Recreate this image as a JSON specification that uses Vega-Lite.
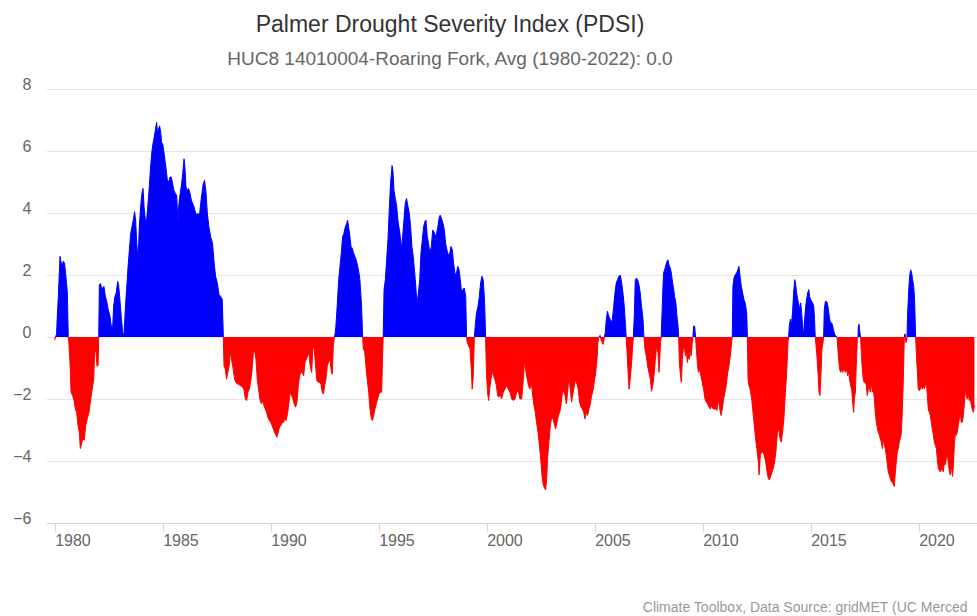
{
"$schema": "https://vega.github.io/schema/vega-lite/v6.json",
"width": 931,
"height": 434,
"autosize": {"type": "none"},
"padding": {"left": 46, "top": 89, "right": 0, "bottom": 93},
"background": "#ffffff",
"config": {"view": {"stroke": null}, "font": "Liberation Sans"},
"title": {
  "text": "Palmer Drought Severity Index (PDSI)",
  "subtitle": "HUC8 14010004-Roaring Fork, Avg (1980-2022): 0.0",
  "anchor": "middle",
  "frame": "group",
  "dx": -61.5,
  "font": "Liberation Sans",
  "fontSize": 23,
  "fontWeight": "normal",
  "color": "#333333",
  "subtitleFont": "Liberation Sans",
  "subtitleFontSize": 19,
  "subtitleColor": "#666666",
  "subtitlePadding": 13,
  "offset": 7
},
"data": {"values": [
{"year":1980.00,"pdsi":-0.1},{"year":1980.09,"pdsi":0.1},{"year":1980.12,"pdsi":0.62},{"year":1980.17,"pdsi":1.31},{"year":1980.25,"pdsi":2.6},{"year":1980.29,"pdsi":2.44},{"year":1980.34,"pdsi":2.28},{"year":1980.40,"pdsi":2.44},{"year":1980.46,"pdsi":2.38},{"year":1980.52,"pdsi":1.96},{"year":1980.59,"pdsi":1.42},{"year":1980.63,"pdsi":0},{"year":1980.66,"pdsi":-0.18},{"year":1980.71,"pdsi":-0.82},{"year":1980.76,"pdsi":-1.78},{"year":1980.83,"pdsi":-1.89},{"year":1980.90,"pdsi":-2.05},{"year":1980.96,"pdsi":-2.32},{"year":1981.02,"pdsi":-2.43},{"year":1981.08,"pdsi":-2.85},{"year":1981.14,"pdsi":-3.07},{"year":1981.19,"pdsi":-3.6},{"year":1981.23,"pdsi":-3.49},{"year":1981.30,"pdsi":-3.28},{"year":1981.37,"pdsi":-3.33},{"year":1981.44,"pdsi":-2.85},{"year":1981.51,"pdsi":-2.64},{"year":1981.59,"pdsi":-2.43},{"year":1981.67,"pdsi":-2.0},{"year":1981.74,"pdsi":-1.68},{"year":1981.81,"pdsi":-1.36},{"year":1981.85,"pdsi":-0.5},{"year":1981.91,"pdsi":-0.45},{"year":1981.96,"pdsi":-0.93},{"year":1982.01,"pdsi":-0.93},{"year":1982.04,"pdsi":0},
{"year":1982.07,"pdsi":1.69},{"year":1982.13,"pdsi":1.72},{"year":1982.18,"pdsi":1.53},{"year":1982.22,"pdsi":1.58},{"year":1982.28,"pdsi":1.63},{"year":1982.35,"pdsi":1.31},{"year":1982.41,"pdsi":1.15},{"year":1982.48,"pdsi":0.89},{"year":1982.56,"pdsi":0.67},{"year":1982.62,"pdsi":0.35},{"year":1982.69,"pdsi":0.35},{"year":1982.73,"pdsi":0.99},{"year":1982.79,"pdsi":1.31},{"year":1982.85,"pdsi":1.42},{"year":1982.92,"pdsi":1.79},{"year":1982.96,"pdsi":1.69},{"year":1983.02,"pdsi":1.21},{"year":1983.09,"pdsi":0.62},{"year":1983.15,"pdsi":0.14},{"year":1983.21,"pdsi":0.09},{"year":1983.27,"pdsi":0.89},{"year":1983.33,"pdsi":1.53},{"year":1983.40,"pdsi":2.28},{"year":1983.46,"pdsi":2.81},{"year":1983.52,"pdsi":3.34},{"year":1983.58,"pdsi":3.56},{"year":1983.64,"pdsi":3.77},{"year":1983.70,"pdsi":4.04},{"year":1983.75,"pdsi":3.77},{"year":1983.80,"pdsi":3.02},{"year":1983.86,"pdsi":2.49},{"year":1983.92,"pdsi":3.56},{"year":1983.98,"pdsi":4.2},{"year":1984.04,"pdsi":4.63},{"year":1984.09,"pdsi":4.79},{"year":1984.14,"pdsi":4.2},{"year":1984.20,"pdsi":3.77},{"year":1984.26,"pdsi":3.77},{"year":1984.31,"pdsi":4.2},{"year":1984.37,"pdsi":4.73},{"year":1984.43,"pdsi":5.37},{"year":1984.49,"pdsi":5.91},{"year":1984.55,"pdsi":6.23},{"year":1984.61,"pdsi":6.44},{"year":1984.68,"pdsi":6.76},{"year":1984.72,"pdsi":6.92},{"year":1984.77,"pdsi":6.55},{"year":1984.81,"pdsi":6.71},{"year":1984.86,"pdsi":6.81},{"year":1984.91,"pdsi":6.6},{"year":1984.95,"pdsi":6.28},{"year":1985.00,"pdsi":6.23},{"year":1985.05,"pdsi":6.01},{"year":1985.11,"pdsi":5.69},{"year":1985.15,"pdsi":5.48},{"year":1985.22,"pdsi":5.05},{"year":1985.28,"pdsi":5.0},{"year":1985.34,"pdsi":5.16},{"year":1985.40,"pdsi":5.16},{"year":1985.46,"pdsi":4.95},{"year":1985.52,"pdsi":4.73},{"year":1985.59,"pdsi":4.63},{"year":1985.65,"pdsi":4.57},{"year":1985.71,"pdsi":3.66},{"year":1985.74,"pdsi":4.2},{"year":1985.80,"pdsi":4.57},{"year":1985.86,"pdsi":4.84},{"year":1985.93,"pdsi":5.27},{"year":1985.99,"pdsi":5.75},{"year":1986.03,"pdsi":5.48},{"year":1986.08,"pdsi":4.84},{"year":1986.14,"pdsi":4.73},{"year":1986.20,"pdsi":4.79},{"year":1986.27,"pdsi":4.63},{"year":1986.33,"pdsi":4.41},{"year":1986.39,"pdsi":4.31},{"year":1986.45,"pdsi":4.2},{"year":1986.51,"pdsi":4.04},{"year":1986.57,"pdsi":3.93},{"year":1986.64,"pdsi":3.99},{"year":1986.70,"pdsi":3.88},{"year":1986.76,"pdsi":4.31},{"year":1986.82,"pdsi":4.63},{"year":1986.88,"pdsi":4.95},{"year":1986.94,"pdsi":5.05},
{"year":1987.00,"pdsi":4.73},{"year":1987.07,"pdsi":3.99},{"year":1987.14,"pdsi":3.56},{"year":1987.22,"pdsi":3.24},{"year":1987.31,"pdsi":3.02},{"year":1987.37,"pdsi":2.49},{"year":1987.45,"pdsi":1.96},{"year":1987.53,"pdsi":1.74},{"year":1987.61,"pdsi":1.37},{"year":1987.68,"pdsi":1.31},{"year":1987.76,"pdsi":1.21},{"year":1987.81,"pdsi":0},{"year":1987.84,"pdsi":-0.93},{"year":1987.90,"pdsi":-1.04},{"year":1987.96,"pdsi":-1.36},{"year":1988.02,"pdsi":-1.14},{"year":1988.08,"pdsi":-0.93},{"year":1988.15,"pdsi":-0.45},{"year":1988.21,"pdsi":-0.82},{"year":1988.27,"pdsi":-1.04},{"year":1988.33,"pdsi":-1.36},{"year":1988.39,"pdsi":-1.46},{"year":1988.46,"pdsi":-1.52},{"year":1988.52,"pdsi":-1.52},{"year":1988.58,"pdsi":-1.57},{"year":1988.64,"pdsi":-1.57},{"year":1988.70,"pdsi":-1.62},{"year":1988.76,"pdsi":-1.68},{"year":1988.83,"pdsi":-2.0},{"year":1988.89,"pdsi":-2.05},{"year":1988.95,"pdsi":-1.78},{"year":1989.01,"pdsi":-1.68},{"year":1989.07,"pdsi":-1.46},{"year":1989.13,"pdsi":-1.14},{"year":1989.20,"pdsi":-0.5},{"year":1989.26,"pdsi":-0.45},{"year":1989.32,"pdsi":-0.72},{"year":1989.38,"pdsi":-1.36},{"year":1989.44,"pdsi":-1.68},{"year":1989.50,"pdsi":-2.0},{"year":1989.57,"pdsi":-2.16},{"year":1989.63,"pdsi":-2.05},{"year":1989.69,"pdsi":-2.21},{"year":1989.75,"pdsi":-2.32},{"year":1989.81,"pdsi":-2.43},{"year":1989.87,"pdsi":-2.59},{"year":1989.94,"pdsi":-2.69},{"year":1990.00,"pdsi":-2.75},{"year":1990.06,"pdsi":-2.85},{"year":1990.12,"pdsi":-2.96},{"year":1990.18,"pdsi":-3.07},{"year":1990.25,"pdsi":-3.17},{"year":1990.29,"pdsi":-3.23},{"year":1990.35,"pdsi":-3.07},{"year":1990.41,"pdsi":-2.91},{"year":1990.48,"pdsi":-2.85},{"year":1990.54,"pdsi":-2.75},{"year":1990.60,"pdsi":-2.75},{"year":1990.66,"pdsi":-2.64},{"year":1990.72,"pdsi":-2.69},{"year":1990.79,"pdsi":-2.43},{"year":1990.85,"pdsi":-2.1},{"year":1990.91,"pdsi":-1.78},{"year":1990.97,"pdsi":-1.89},{"year":1991.03,"pdsi":-2.0},{"year":1991.09,"pdsi":-2.16},{"year":1991.16,"pdsi":-2.26},{"year":1991.22,"pdsi":-2.1},{"year":1991.28,"pdsi":-1.57},{"year":1991.34,"pdsi":-1.25},{"year":1991.40,"pdsi":-1.14},{"year":1991.46,"pdsi":-1.14},{"year":1991.53,"pdsi":-1.25},{"year":1991.59,"pdsi":-0.82},{"year":1991.65,"pdsi":-0.72},{"year":1991.71,"pdsi":-0.61},{"year":1991.77,"pdsi":-0.5},{"year":1991.83,"pdsi":-0.93},{"year":1991.90,"pdsi":-1.14},{"year":1991.96,"pdsi":-0.29},{"year":1992.02,"pdsi":-0.4},{"year":1992.08,"pdsi":-0.93},{"year":1992.14,"pdsi":-1.41},{"year":1992.21,"pdsi":-1.46},{"year":1992.27,"pdsi":-1.46},{"year":1992.33,"pdsi":-1.52},{"year":1992.39,"pdsi":-1.78},{"year":1992.44,"pdsi":-1.84},{"year":1992.50,"pdsi":-1.57},{"year":1992.56,"pdsi":-1.36},{"year":1992.62,"pdsi":-0.93},{"year":1992.68,"pdsi":-0.82},{"year":1992.75,"pdsi":-0.72},{"year":1992.81,"pdsi":-1.14},{"year":1992.85,"pdsi":-1.2},{"year":1992.90,"pdsi":-0.29},{"year":1992.95,"pdsi":0},{"year":1992.98,"pdsi":0.09},{"year":1993.02,"pdsi":0.35},{"year":1993.08,"pdsi":0.99},{"year":1993.15,"pdsi":1.85},{"year":1993.21,"pdsi":2.28},{"year":1993.27,"pdsi":2.7},{"year":1993.33,"pdsi":3.24},{"year":1993.39,"pdsi":3.34},{"year":1993.46,"pdsi":3.56},{"year":1993.52,"pdsi":3.66},{"year":1993.56,"pdsi":3.77},{"year":1993.61,"pdsi":3.56},{"year":1993.67,"pdsi":3.24},{"year":1993.72,"pdsi":2.92},{"year":1993.78,"pdsi":2.86},{"year":1993.84,"pdsi":2.7},{"year":1993.90,"pdsi":2.6},{"year":1993.96,"pdsi":2.49},{"year":1994.03,"pdsi":2.28},{"year":1994.09,"pdsi":2.06},{"year":1994.13,"pdsi":1.85},{"year":1994.21,"pdsi":0.99},{"year":1994.26,"pdsi":0},
{"year":1994.29,"pdsi":-0.4},{"year":1994.35,"pdsi":-0.45},{"year":1994.41,"pdsi":-0.93},{"year":1994.47,"pdsi":-1.36},{"year":1994.54,"pdsi":-1.78},{"year":1994.60,"pdsi":-2.32},{"year":1994.66,"pdsi":-2.64},{"year":1994.71,"pdsi":-2.69},{"year":1994.77,"pdsi":-2.53},{"year":1994.83,"pdsi":-2.32},{"year":1994.89,"pdsi":-2.16},{"year":1994.95,"pdsi":-2.0},{"year":1995.01,"pdsi":-1.84},{"year":1995.08,"pdsi":-1.78},{"year":1995.14,"pdsi":-1.78},{"year":1995.18,"pdsi":-0.61},{"year":1995.21,"pdsi":0},{"year":1995.25,"pdsi":1.53},{"year":1995.31,"pdsi":1.85},{"year":1995.37,"pdsi":2.49},{"year":1995.43,"pdsi":3.13},{"year":1995.49,"pdsi":4.09},{"year":1995.55,"pdsi":4.95},{"year":1995.62,"pdsi":5.53},{"year":1995.66,"pdsi":5.37},{"year":1995.71,"pdsi":4.73},{"year":1995.77,"pdsi":4.47},{"year":1995.83,"pdsi":4.25},{"year":1995.89,"pdsi":3.77},{"year":1995.96,"pdsi":3.45},{"year":1996.02,"pdsi":3.13},{"year":1996.06,"pdsi":2.86},{"year":1996.11,"pdsi":3.24},{"year":1996.17,"pdsi":3.77},{"year":1996.23,"pdsi":4.31},{"year":1996.29,"pdsi":4.47},{"year":1996.36,"pdsi":4.2},{"year":1996.42,"pdsi":3.99},{"year":1996.48,"pdsi":3.56},{"year":1996.54,"pdsi":2.92},{"year":1996.60,"pdsi":2.6},{"year":1996.67,"pdsi":2.06},{"year":1996.73,"pdsi":1.53},{"year":1996.77,"pdsi":1.05},{"year":1996.84,"pdsi":1.42},{"year":1996.90,"pdsi":1.85},{"year":1996.96,"pdsi":2.7},{"year":1997.02,"pdsi":3.13},{"year":1997.08,"pdsi":3.56},{"year":1997.14,"pdsi":3.72},{"year":1997.19,"pdsi":3.77},{"year":1997.25,"pdsi":3.24},{"year":1997.31,"pdsi":3.02},{"year":1997.37,"pdsi":2.7},{"year":1997.44,"pdsi":2.92},{"year":1997.50,"pdsi":3.45},{"year":1997.56,"pdsi":3.4},{"year":1997.62,"pdsi":3.24},{"year":1997.68,"pdsi":3.34},{"year":1997.74,"pdsi":3.56},{"year":1997.81,"pdsi":3.88},{"year":1997.85,"pdsi":3.93},{"year":1997.91,"pdsi":3.82},{"year":1997.98,"pdsi":3.66},{"year":1998.04,"pdsi":3.45},{"year":1998.10,"pdsi":3.02},{"year":1998.16,"pdsi":2.81},{"year":1998.22,"pdsi":2.65},{"year":1998.29,"pdsi":2.7},{"year":1998.35,"pdsi":2.92},{"year":1998.41,"pdsi":2.81},{"year":1998.47,"pdsi":2.38},{"year":1998.53,"pdsi":2.06},{"year":1998.59,"pdsi":2.01},{"year":1998.66,"pdsi":2.28},{"year":1998.72,"pdsi":2.17},{"year":1998.78,"pdsi":1.85},{"year":1998.84,"pdsi":1.42},{"year":1998.90,"pdsi":1.53},{"year":1998.96,"pdsi":1.58},{"year":1999.03,"pdsi":1.31},{"year":1999.07,"pdsi":0},{"year":1999.10,"pdsi":-0.18},{"year":1999.17,"pdsi":-0.29},{"year":1999.23,"pdsi":-0.4},{"year":1999.29,"pdsi":-1.04},{"year":1999.33,"pdsi":-1.68},{"year":1999.38,"pdsi":-1.25},{"year":1999.43,"pdsi":0},{"year":1999.47,"pdsi":0.35},{"year":1999.53,"pdsi":0.78},{"year":1999.60,"pdsi":0.99},{"year":1999.66,"pdsi":1.31},{"year":1999.72,"pdsi":1.74},{"year":1999.78,"pdsi":1.96},{"year":1999.84,"pdsi":1.85},{"year":1999.89,"pdsi":1.31},{"year":1999.92,"pdsi":0.78},{"year":1999.95,"pdsi":0},{"year":1999.99,"pdsi":-1.14},{"year":2000.04,"pdsi":-1.78},{"year":2000.09,"pdsi":-2.05},{"year":2000.14,"pdsi":-1.68},{"year":2000.20,"pdsi":-1.36},{"year":2000.26,"pdsi":-1.14},{"year":2000.32,"pdsi":-1.25},{"year":2000.38,"pdsi":-1.36},{"year":2000.45,"pdsi":-1.57},{"year":2000.51,"pdsi":-1.89},{"year":2000.57,"pdsi":-1.94},{"year":2000.63,"pdsi":-1.84},
{"year":2000.69,"pdsi":-2.0},{"year":2000.77,"pdsi":-1.78},{"year":2000.85,"pdsi":-1.68},{"year":2000.92,"pdsi":-1.57},{"year":2001.00,"pdsi":-1.68},{"year":2001.08,"pdsi":-1.78},{"year":2001.16,"pdsi":-2.0},{"year":2001.23,"pdsi":-2.05},{"year":2001.31,"pdsi":-2.0},{"year":2001.39,"pdsi":-1.78},{"year":2001.46,"pdsi":-1.73},{"year":2001.54,"pdsi":-2.0},{"year":2001.62,"pdsi":-2.0},{"year":2001.70,"pdsi":-1.36},{"year":2001.76,"pdsi":-0.72},{"year":2001.82,"pdsi":-1.14},{"year":2001.88,"pdsi":-1.36},{"year":2001.94,"pdsi":-1.57},{"year":2002.00,"pdsi":-1.68},{"year":2002.07,"pdsi":-1.46},{"year":2002.13,"pdsi":-1.89},{"year":2002.19,"pdsi":-2.21},{"year":2002.25,"pdsi":-2.43},{"year":2002.31,"pdsi":-2.75},{"year":2002.38,"pdsi":-3.07},{"year":2002.44,"pdsi":-3.49},{"year":2002.50,"pdsi":-3.92},{"year":2002.56,"pdsi":-4.45},{"year":2002.62,"pdsi":-4.77},{"year":2002.68,"pdsi":-4.87},{"year":2002.73,"pdsi":-4.93},{"year":2002.78,"pdsi":-4.56},{"year":2002.82,"pdsi":-3.92},{"year":2002.88,"pdsi":-3.39},{"year":2002.95,"pdsi":-2.85},{"year":2003.01,"pdsi":-2.59},{"year":2003.07,"pdsi":-2.64},{"year":2003.13,"pdsi":-2.8},{"year":2003.19,"pdsi":-2.96},{"year":2003.26,"pdsi":-2.75},{"year":2003.32,"pdsi":-2.53},{"year":2003.38,"pdsi":-2.43},{"year":2003.44,"pdsi":-2.21},{"year":2003.50,"pdsi":-1.84},{"year":2003.56,"pdsi":-1.73},{"year":2003.63,"pdsi":-1.89},{"year":2003.69,"pdsi":-2.16},{"year":2003.75,"pdsi":-1.78},{"year":2003.81,"pdsi":-1.25},{"year":2003.87,"pdsi":-1.68},{"year":2003.93,"pdsi":-2.1},{"year":2003.98,"pdsi":-1.89},{"year":2004.06,"pdsi":-1.57},{"year":2004.12,"pdsi":-1.36},{"year":2004.18,"pdsi":-1.52},{"year":2004.24,"pdsi":-1.68},{"year":2004.30,"pdsi":-2.1},{"year":2004.37,"pdsi":-2.26},{"year":2004.43,"pdsi":-2.32},{"year":2004.49,"pdsi":-2.43},{"year":2004.55,"pdsi":-2.64},{"year":2004.61,"pdsi":-2.43},{"year":2004.67,"pdsi":-2.53},{"year":2004.74,"pdsi":-2.32},{"year":2004.80,"pdsi":-2.16},{"year":2004.86,"pdsi":-1.89},{"year":2004.92,"pdsi":-1.73},{"year":2004.98,"pdsi":-1.46},{"year":2005.05,"pdsi":-1.14},{"year":2005.11,"pdsi":-0.72},{"year":2005.15,"pdsi":-0.18},{"year":2005.20,"pdsi":0},{"year":2005.25,"pdsi":0.05},{"year":2005.29,"pdsi":-0.07},{"year":2005.35,"pdsi":-0.18},{"year":2005.40,"pdsi":-0.24},{"year":2005.45,"pdsi":0},{"year":2005.49,"pdsi":0.14},{"year":2005.54,"pdsi":0.57},{"year":2005.59,"pdsi":0.83},{"year":2005.63,"pdsi":0.73},{"year":2005.68,"pdsi":0.62},{"year":2005.72,"pdsi":0.57},{"year":2005.77,"pdsi":0.46},{"year":2005.82,"pdsi":0.57},{"year":2005.88,"pdsi":0.99},{"year":2005.94,"pdsi":1.42},{"year":2006.00,"pdsi":1.74},{"year":2006.06,"pdsi":1.85},{"year":2006.12,"pdsi":1.96},{"year":2006.19,"pdsi":1.99},{"year":2006.25,"pdsi":1.74},{"year":2006.31,"pdsi":1.42},{"year":2006.37,"pdsi":0.99},{"year":2006.43,"pdsi":0.35},{"year":2006.46,"pdsi":0},{"year":2006.50,"pdsi":-0.5},{"year":2006.54,"pdsi":-1.04},{"year":2006.59,"pdsi":-1.68},{"year":2006.63,"pdsi":-1.46},{"year":2006.70,"pdsi":-0.93},{"year":2006.76,"pdsi":-0.29},{"year":2006.79,"pdsi":0},{"year":2006.84,"pdsi":0.78},{"year":2006.88,"pdsi":1.85},{"year":2006.93,"pdsi":1.9},{"year":2006.99,"pdsi":1.85},{"year":2007.05,"pdsi":1.69},{"year":2007.11,"pdsi":1.42},{"year":2007.17,"pdsi":0.99},{"year":2007.24,"pdsi":0.57},{"year":2007.28,"pdsi":0},{"year":2007.33,"pdsi":-0.4},{"year":2007.39,"pdsi":-0.61},{"year":2007.45,"pdsi":-0.93},{"year":2007.51,"pdsi":-1.14},{"year":2007.58,"pdsi":-1.36},{"year":2007.63,"pdsi":-1.75},{"year":2007.70,"pdsi":-1.52},{"year":2007.76,"pdsi":-1.14},{"year":2007.81,"pdsi":-0.72},{"year":2007.87,"pdsi":-0.29},{"year":2007.93,"pdsi":-0.5},{"year":2007.98,"pdsi":-1.14},{"year":2008.02,"pdsi":-0.61},{"year":2008.05,"pdsi":-0.18},{"year":2008.08,"pdsi":0},
{"year":2008.12,"pdsi":0.78},{"year":2008.15,"pdsi":1.42},{"year":2008.19,"pdsi":2.06},{"year":2008.24,"pdsi":2.17},{"year":2008.30,"pdsi":2.33},{"year":2008.35,"pdsi":2.44},{"year":2008.39,"pdsi":2.49},{"year":2008.44,"pdsi":2.33},{"year":2008.50,"pdsi":2.22},{"year":2008.55,"pdsi":2.06},{"year":2008.61,"pdsi":1.74},{"year":2008.66,"pdsi":1.53},{"year":2008.70,"pdsi":1.31},{"year":2008.76,"pdsi":1.1},{"year":2008.81,"pdsi":0.67},{"year":2008.86,"pdsi":0.35},{"year":2008.89,"pdsi":0},{"year":2008.92,"pdsi":-0.82},{"year":2008.96,"pdsi":-1.14},{"year":2009.01,"pdsi":-1.46},{"year":2009.06,"pdsi":-0.72},{"year":2009.10,"pdsi":-0.4},{"year":2009.15,"pdsi":-0.29},{"year":2009.20,"pdsi":-0.61},{"year":2009.24,"pdsi":-0.4},{"year":2009.29,"pdsi":-0.82},{"year":2009.33,"pdsi":-0.61},{"year":2009.38,"pdsi":-0.72},{"year":2009.43,"pdsi":-0.4},{"year":2009.47,"pdsi":-0.61},{"year":2009.52,"pdsi":-0.18},{"year":2009.55,"pdsi":0},{"year":2009.58,"pdsi":0.35},{"year":2009.63,"pdsi":0.35},{"year":2009.67,"pdsi":0},{"year":2009.71,"pdsi":-0.4},{"year":2009.75,"pdsi":-0.82},{"year":2009.80,"pdsi":-1.14},{"year":2009.86,"pdsi":-1.04},{"year":2009.92,"pdsi":-1.25},{"year":2009.98,"pdsi":-1.46},{"year":2010.04,"pdsi":-1.68},{"year":2010.11,"pdsi":-2.0},{"year":2010.17,"pdsi":-2.1},{"year":2010.23,"pdsi":-2.16},{"year":2010.29,"pdsi":-2.26},{"year":2010.35,"pdsi":-2.32},{"year":2010.41,"pdsi":-2.21},{"year":2010.48,"pdsi":-2.32},{"year":2010.54,"pdsi":-2.32},{"year":2010.60,"pdsi":-2.32},{"year":2010.66,"pdsi":-2.37},{"year":2010.72,"pdsi":-2.0},{"year":2010.79,"pdsi":-2.32},{"year":2010.85,"pdsi":-2.53},{"year":2010.91,"pdsi":-2.32},{"year":2010.97,"pdsi":-2.0},{"year":2011.03,"pdsi":-1.78},{"year":2011.09,"pdsi":-1.57},{"year":2011.16,"pdsi":-1.14},{"year":2011.22,"pdsi":-0.93},{"year":2011.28,"pdsi":-0.61},{"year":2011.34,"pdsi":-0.18},{"year":2011.37,"pdsi":0},{"year":2011.40,"pdsi":1.63},{"year":2011.45,"pdsi":1.9},{"year":2011.51,"pdsi":2.01},{"year":2011.57,"pdsi":2.06},{"year":2011.63,"pdsi":2.17},{"year":2011.68,"pdsi":2.28},{"year":2011.73,"pdsi":1.96},{"year":2011.79,"pdsi":1.63},{"year":2011.85,"pdsi":1.42},{"year":2011.91,"pdsi":1.21},{"year":2011.97,"pdsi":1.1},{"year":2012.04,"pdsi":0.78},{"year":2012.07,"pdsi":0},{"year":2012.10,"pdsi":-1.36},{"year":2012.14,"pdsi":-1.57},{"year":2012.20,"pdsi":-1.68},{"year":2012.27,"pdsi":-2.0},{"year":2012.33,"pdsi":-2.43},{"year":2012.39,"pdsi":-2.85},{"year":2012.45,"pdsi":-3.28},{"year":2012.51,"pdsi":-3.6},{"year":2012.58,"pdsi":-4.03},{"year":2012.61,"pdsi":-4.45},{"year":2012.67,"pdsi":-3.81},{"year":2012.73,"pdsi":-3.71},{"year":2012.79,"pdsi":-3.71},{"year":2012.85,"pdsi":-3.81},{"year":2012.92,"pdsi":-4.03},{"year":2012.98,"pdsi":-4.35},{"year":2013.04,"pdsi":-4.56},{"year":2013.08,"pdsi":-4.61},{"year":2013.15,"pdsi":-4.5},{"year":2013.21,"pdsi":-4.35},{"year":2013.27,"pdsi":-4.24},{"year":2013.33,"pdsi":-4.03},{"year":2013.39,"pdsi":-3.71},{"year":2013.46,"pdsi":-3.07},{"year":2013.52,"pdsi":-2.96},{"year":2013.58,"pdsi":-3.28},{"year":2013.64,"pdsi":-3.39},{"year":2013.70,"pdsi":-3.07},{"year":2013.76,"pdsi":-2.64},{"year":2013.83,"pdsi":-1.78},{"year":2013.89,"pdsi":-1.14},{"year":2013.95,"pdsi":-0.18},{"year":2013.98,"pdsi":0},{"year":2014.01,"pdsi":0.35},{"year":2014.06,"pdsi":0.57},{"year":2014.10,"pdsi":0.35},{"year":2014.16,"pdsi":0.78},{"year":2014.21,"pdsi":1.42},{"year":2014.26,"pdsi":1.85},{"year":2014.30,"pdsi":1.74},{"year":2014.35,"pdsi":1.42},{"year":2014.40,"pdsi":1.21},{"year":2014.44,"pdsi":1.1},{"year":2014.49,"pdsi":0.89},{"year":2014.54,"pdsi":1.1},{"year":2014.58,"pdsi":0.78},{"year":2014.63,"pdsi":0.35},{"year":2014.67,"pdsi":0.03},{"year":2014.72,"pdsi":0.57},{"year":2014.77,"pdsi":0.99},{"year":2014.81,"pdsi":1.21},{"year":2014.86,"pdsi":1.42},{"year":2014.91,"pdsi":1.53},{"year":2014.95,"pdsi":1.31},{"year":2015.00,"pdsi":1.21},{"year":2015.05,"pdsi":1.15},{"year":2015.09,"pdsi":1.1},{"year":2015.14,"pdsi":0.99},{"year":2015.18,"pdsi":0.57},{"year":2015.21,"pdsi":0},
{"year":2015.25,"pdsi":-0.29},{"year":2015.29,"pdsi":-0.61},{"year":2015.34,"pdsi":-1.14},{"year":2015.385,"pdsi":-1.78},{"year":2015.43,"pdsi":-1.89},{"year":2015.48,"pdsi":-1.14},{"year":2015.52,"pdsi":-0.4},{"year":2015.57,"pdsi":-0.18},{"year":2015.60,"pdsi":0},{"year":2015.63,"pdsi":0.89},{"year":2015.68,"pdsi":1.15},{"year":2015.72,"pdsi":1.15},{"year":2015.77,"pdsi":1.1},{"year":2015.82,"pdsi":0.89},{"year":2015.86,"pdsi":0.67},{"year":2015.91,"pdsi":0.46},{"year":2015.96,"pdsi":0.46},{"year":2016.00,"pdsi":0.41},{"year":2016.05,"pdsi":0.25},{"year":2016.11,"pdsi":0.09},{"year":2016.17,"pdsi":0.03},{"year":2016.22,"pdsi":0},{"year":2016.25,"pdsi":-0.29},{"year":2016.295,"pdsi":-0.72},{"year":2016.34,"pdsi":-1.04},{"year":2016.39,"pdsi":-1.14},{"year":2016.43,"pdsi":-1.04},{"year":2016.48,"pdsi":-1.14},{"year":2016.53,"pdsi":-1.04},{"year":2016.57,"pdsi":-1.09},{"year":2016.62,"pdsi":-1.14},{"year":2016.67,"pdsi":-1.04},{"year":2016.71,"pdsi":-1.25},{"year":2016.76,"pdsi":-1.14},{"year":2016.80,"pdsi":-1.36},{"year":2016.85,"pdsi":-1.57},{"year":2016.90,"pdsi":-1.68},{"year":2016.94,"pdsi":-2.1},{"year":2016.99,"pdsi":-2.43},{"year":2017.02,"pdsi":-2.0},{"year":2017.07,"pdsi":-1.78},{"year":2017.11,"pdsi":-0.93},{"year":2017.16,"pdsi":-0.07},{"year":2017.19,"pdsi":0},{"year":2017.205,"pdsi":0.35},{"year":2017.24,"pdsi":0.41},{"year":2017.28,"pdsi":0.14},{"year":2017.31,"pdsi":0},{"year":2017.345,"pdsi":-0.5},{"year":2017.39,"pdsi":-1.04},{"year":2017.44,"pdsi":-1.41},{"year":2017.48,"pdsi":-1.46},{"year":2017.53,"pdsi":-1.46},{"year":2017.58,"pdsi":-1.57},{"year":2017.62,"pdsi":-1.89},{"year":2017.67,"pdsi":-1.68},{"year":2017.715,"pdsi":-1.57},{"year":2017.76,"pdsi":-1.78},{"year":2017.81,"pdsi":-1.46},{"year":2017.85,"pdsi":-1.78},{"year":2017.90,"pdsi":-1.68},{"year":2017.95,"pdsi":-2.0},{"year":2017.99,"pdsi":-2.43},{"year":2018.04,"pdsi":-2.75},{"year":2018.09,"pdsi":-2.96},{"year":2018.13,"pdsi":-3.07},{"year":2018.18,"pdsi":-3.17},{"year":2018.225,"pdsi":-3.28},{"year":2018.27,"pdsi":-3.39},{"year":2018.32,"pdsi":-3.6},{"year":2018.36,"pdsi":-3.28},{"year":2018.41,"pdsi":-3.49},{"year":2018.455,"pdsi":-3.6},{"year":2018.50,"pdsi":-3.81},{"year":2018.55,"pdsi":-4.13},{"year":2018.595,"pdsi":-4.35},{"year":2018.64,"pdsi":-4.45},{"year":2018.69,"pdsi":-4.56},{"year":2018.73,"pdsi":-4.66},{"year":2018.78,"pdsi":-4.66},{"year":2018.83,"pdsi":-4.77},{"year":2018.87,"pdsi":-4.82},{"year":2018.92,"pdsi":-4.35},{"year":2018.965,"pdsi":-4.03},{"year":2019.01,"pdsi":-3.71},{"year":2019.06,"pdsi":-3.6},{"year":2019.10,"pdsi":-3.39},{"year":2019.15,"pdsi":-3.28},{"year":2019.20,"pdsi":-3.07},{"year":2019.24,"pdsi":-2.43},{"year":2019.29,"pdsi":-1.36},{"year":2019.335,"pdsi":0},{"year":2019.37,"pdsi":0.1},{"year":2019.41,"pdsi":-0.18},{"year":2019.46,"pdsi":0},{"year":2019.49,"pdsi":0.78},{"year":2019.54,"pdsi":1.53},{"year":2019.58,"pdsi":1.96},{"year":2019.63,"pdsi":2.17},{"year":2019.675,"pdsi":2.06},{"year":2019.72,"pdsi":1.85},{"year":2019.77,"pdsi":1.63},{"year":2019.81,"pdsi":1.21},{"year":2019.86,"pdsi":0},{"year":2019.89,"pdsi":-0.5},{"year":2019.94,"pdsi":-1.14},{"year":2019.98,"pdsi":-1.68},{"year":2020.03,"pdsi":-1.73},{"year":2020.08,"pdsi":-1.68},{"year":2020.12,"pdsi":-1.57},{"year":2020.17,"pdsi":-1.68},{"year":2020.215,"pdsi":-1.57},{"year":2020.26,"pdsi":-1.68},{"year":2020.31,"pdsi":-1.57},{"year":2020.35,"pdsi":-1.36},{"year":2020.40,"pdsi":-1.89},{"year":2020.445,"pdsi":-2.32},{"year":2020.49,"pdsi":-2.43},{"year":2020.54,"pdsi":-2.53},{"year":2020.585,"pdsi":-2.75},{"year":2020.63,"pdsi":-2.96},{"year":2020.68,"pdsi":-3.17},{"year":2020.725,"pdsi":-3.39},{"year":2020.77,"pdsi":-3.49},{"year":2020.82,"pdsi":-3.6},{"year":2020.86,"pdsi":-3.92},{"year":2020.91,"pdsi":-4.24},{"year":2020.955,"pdsi":-4.29},{"year":2021.00,"pdsi":-4.35},{"year":2021.05,"pdsi":-4.29},{"year":2021.095,"pdsi":-4.24},{"year":2021.14,"pdsi":-4.35},{"year":2021.19,"pdsi":-4.03},{"year":2021.23,"pdsi":-4.13},{"year":2021.28,"pdsi":-3.92},{"year":2021.33,"pdsi":-3.81},{"year":2021.37,"pdsi":-4.03},{"year":2021.42,"pdsi":-4.35},{"year":2021.465,"pdsi":-4.45},{"year":2021.51,"pdsi":-4.13},{"year":2021.56,"pdsi":-4.5},{"year":2021.60,"pdsi":-4.24},{"year":2021.65,"pdsi":-3.49},{"year":2021.70,"pdsi":-3.07},{"year":2021.74,"pdsi":-3.17},{"year":2021.79,"pdsi":-3.07},{"year":2021.835,"pdsi":-2.85},{"year":2021.88,"pdsi":-2.64},{"year":2021.93,"pdsi":-2.43},{"year":2021.97,"pdsi":-2.75},{"year":2022.02,"pdsi":-2.75},{"year":2022.07,"pdsi":-2.53},{"year":2022.11,"pdsi":-2.21},{"year":2022.16,"pdsi":-1.73},{"year":2022.205,"pdsi":-1.89},{"year":2022.25,"pdsi":-2.0},{"year":2022.30,"pdsi":-1.89},{"year":2022.345,"pdsi":-2.05},{"year":2022.39,"pdsi":-2.0},{"year":2022.44,"pdsi":-2.21},{"year":2022.48,"pdsi":-2.32},{"year":2022.53,"pdsi":-2.43},{"year":2022.58,"pdsi":-2.21}
]},
"encoding": {
  "x": {
    "field": "year", "type": "quantitative",
    "scale": {"domain": [1979.6, 2022.7], "nice": false, "zero": false},
    "axis": {
      "values": [1980, 1985, 1990, 1995, 2000, 2005, 2010, 2015, 2020],
      "format": "d",
      "grid": false,
      "domainColor": "#ccd6eb", "domainWidth": 1,
      "tickColor": "#ccd6eb", "tickSize": 8, "tickWidth": 1,
      "labelAlign": "left", "labelBaseline": "alphabetic", "labelPadding": 14,
      "labelFont": "Liberation Sans", "labelFontSize": 16, "labelColor": "#666666",
      "labelFlush": false, "labelOverlap": false,
      "title": "Climate Toolbox, Data Source: gridMET (UC Merced",
      "titleX": 921, "titleY": 88, "titleAlign": "right", "titleBaseline": "alphabetic",
      "titleFont": "Liberation Sans", "titleFontSize": 14, "titleFontWeight": "normal", "titleColor": "#999999"
    }
  },
  "y": {
    "field": "pdsi", "type": "quantitative",
    "scale": {"domain": [-6, 8], "nice": false},
    "axis": {
      "values": [-6, -4, -2, 0, 2, 4, 6, 8],
      "title": null,
      "domain": false, "ticks": false, "tickSize": 0,
      "grid": true, "gridColor": "#e6e6e6", "gridWidth": 1,
      "labelFont": "Liberation Sans", "labelFontSize": 16, "labelColor": "#666666",
      "labelPadding": 15, "labelBaseline": "alphabetic", "labelFlush": false, "labelOverlap": false
    }
  }
},
"layer": [
  {
    "mark": {"type": "area", "interpolate": "linear",
      "color": {"gradient": "linear", "x1": 0, "y1": 0, "x2": 0, "y2": 1,
        "stops": [{"offset": 0, "color": "#0000ff"}, {"offset": 0.58397, "color": "#0000ff"}, {"offset": 0.58397, "color": "#ff0000"}, {"offset": 1, "color": "#ff0000"}]}},
    "encoding": {"y2": {"datum": 0}}
  },
  {
    "mark": {"type": "line", "interpolate": "linear", "strokeWidth": 1,
      "stroke": {"gradient": "linear", "x1": 0, "y1": 0, "x2": 0, "y2": 1,
        "stops": [{"offset": 0, "color": "#0000ff"}, {"offset": 0.58397, "color": "#0000ff"}, {"offset": 0.58397, "color": "#ff0000"}, {"offset": 1, "color": "#ff0000"}]}},
    "encoding": {}
  }
]
}
